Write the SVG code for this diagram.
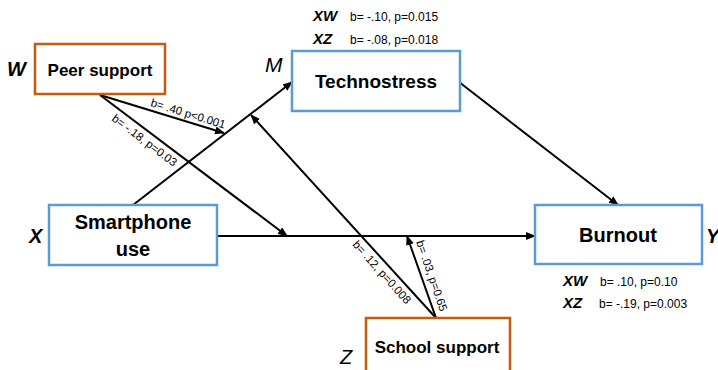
<svg xmlns="http://www.w3.org/2000/svg" width="718" height="370" viewBox="0 0 718 370">
<defs>
<marker id="arr" markerUnits="userSpaceOnUse" markerWidth="10" markerHeight="8" refX="9" refY="4" orient="auto">
<path d="M0,0 L10,4 L0,8 Z" fill="#000"/>
</marker>
<style>
.blue{fill:#fff;stroke:#5b9bd5;stroke-width:2.5}
.orange{fill:#fff;stroke:#c55a11;stroke-width:2.5}
.nt{font-family:"Liberation Sans",Arial,sans-serif;font-weight:bold;fill:#000;text-anchor:middle}
.var{font-family:"Liberation Sans",Arial,sans-serif;font-style:italic;fill:#000}
.bi{font-family:"Liberation Sans",Arial,sans-serif;font-style:italic;font-weight:bold;font-size:15px;fill:#000}
.st{font-family:"Liberation Sans",Arial,sans-serif;font-size:12px;fill:#000}
.lb{font-family:"Liberation Sans",Arial,sans-serif;font-size:11.5px;fill:#000}
.ln{stroke:#000;stroke-width:2;fill:none}
</style>
</defs>
<rect width="718" height="370" fill="#fff"/>
<g id="connectors">
<line class="ln" x1="217" y1="236" x2="535" y2="236" marker-end="url(#arr)"/>
<line class="ln" x1="133" y1="205" x2="292" y2="82" marker-end="url(#arr)"/>
<line class="ln" x1="459" y1="82" x2="618" y2="205" marker-end="url(#arr)"/>
<line class="ln" x1="100" y1="95" x2="224" y2="133" marker-end="url(#arr)"/>
<line class="ln" x1="100" y1="95" x2="287" y2="236" marker-end="url(#arr)"/>
<line class="ln" x1="436" y1="318" x2="251" y2="115" marker-end="url(#arr)"/>
<line class="ln" x1="436" y1="318" x2="407" y2="236" marker-end="url(#arr)"/>
<text class="lb" transform="translate(150,106) rotate(17)">b= .40 p&lt;0.001</text>
<text class="lb" transform="translate(111,120) rotate(37)">b= -.18, p=0.03</text>
<text class="lb" transform="translate(352,245) rotate(48)">b= .12, p=0.008</text>
<text class="lb" transform="translate(416,242) rotate(71)">b= .03, p=0.65</text>
</g>
<g id="peer">
<rect class="orange" x="35" y="44" width="130" height="50"/>
<text class="nt" x="100" y="76" font-size="17">Peer support</text>
<text class="var" x="7" y="76" font-size="20" font-weight="bold">W</text>
</g>
<g id="technostress">
<rect class="blue" x="292" y="51" width="168" height="60"/>
<text class="nt" x="376" y="88" font-size="19">Technostress</text>
<text class="var" x="265" y="72" font-size="21">M</text>
<text class="bi" x="313" y="21">XW</text>
<text class="st" x="350" y="21">b= -.10, p=0.015</text>
<text class="bi" x="313" y="44">XZ</text>
<text class="st" x="350" y="44">b= -.08, p=0.018</text>
</g>
<g id="smartphone">
<rect class="blue" x="49" y="205" width="168" height="60"/>
<text class="nt" x="133" y="229" font-size="20">Smartphone</text>
<text class="nt" x="133" y="256" font-size="20">use</text>
<text class="var" x="29" y="243" font-size="20" font-weight="bold">X</text>
</g>
<g id="burnout">
<rect class="blue" x="535" y="205" width="167" height="59"/>
<text class="nt" x="618" y="242" font-size="20">Burnout</text>
<text class="var" x="706" y="243" font-size="20" font-weight="bold">Y</text>
<text class="bi" x="563" y="286">XW</text>
<text class="st" x="600" y="286">b= .10, p=0.10</text>
<text class="bi" x="563" y="308">XZ</text>
<text class="st" x="599" y="308">b= -.19, p=0.003</text>
</g>
<g id="school">
<rect class="orange" x="366" y="318" width="144" height="54"/>
<text class="nt" x="437" y="353" font-size="17">School support</text>
<text class="var" x="340" y="364" font-size="20">Z</text>
</g>
</svg>
